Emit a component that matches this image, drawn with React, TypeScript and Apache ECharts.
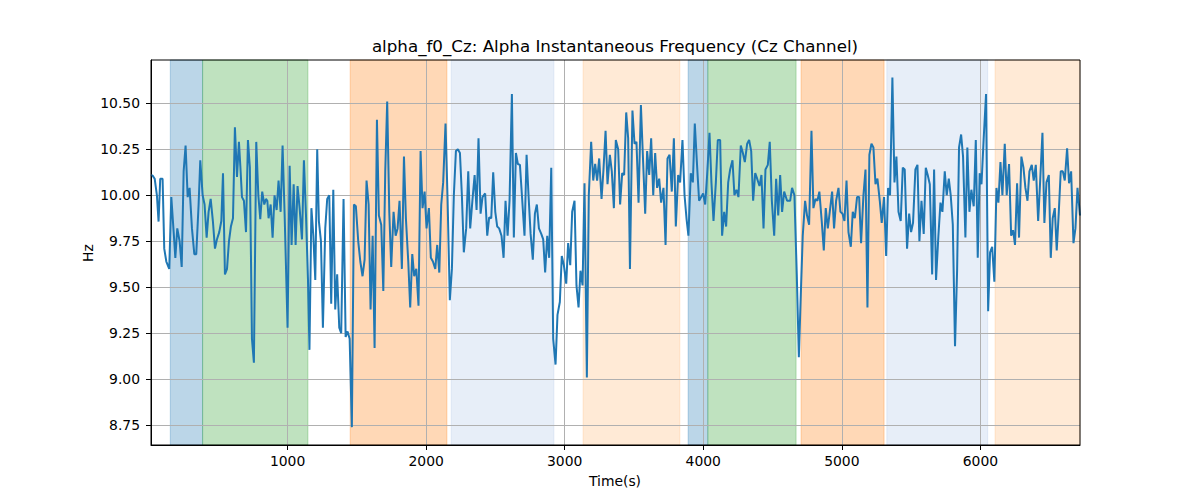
import React, { useEffect, useRef } from "react";
import * as echarts from "echarts";

// Sample times (s) and alpha instantaneous frequency (Hz)
const TIME_S = [
  14.4, 26, 41, 57, 69, 81, 98, 110, 125, 146, 161, 178, 190, 204, 221, 236, 250, 264, 279, 293,
  310, 327, 341, 358, 370, 387, 401, 416, 430, 445, 461, 476, 490, 507, 522, 534, 548, 563, 577, 591,
  606, 620, 635, 649, 659, 671, 685, 700, 714, 728, 743, 757, 774, 789, 803, 817, 832, 844, 854, 863,
  878, 892, 906, 921, 935, 950, 964, 979, 1000, 1015, 1029, 1044, 1058, 1072, 1087, 1104, 1118, 1133, 1147, 1158,
  1172, 1186, 1200, 1214, 1226, 1241, 1255, 1272, 1286, 1301, 1315, 1330, 1344, 1358, 1373, 1387, 1404, 1419, 1433, 1448,
  1464, 1479, 1493, 1510, 1525, 1541, 1556, 1570, 1585, 1599, 1614, 1628, 1645, 1659, 1676, 1691, 1705, 1719, 1734, 1748,
  1765, 1780, 1794, 1808, 1825, 1840, 1854, 1871, 1885, 1900, 1914, 1929, 1945, 1960, 1974, 1989, 2003, 2020, 2034, 2049,
  2066, 2080, 2095, 2109, 2123, 2140, 2155, 2171, 2186, 2200, 2215, 2229, 2244, 2258, 2272, 2289, 2304, 2318, 2335, 2350,
  2364, 2378, 2393, 2407, 2426, 2441, 2455, 2470, 2484, 2499, 2513, 2527, 2544, 2559, 2573, 2588, 2602, 2619, 2633, 2648,
  2662, 2677, 2693, 2710, 2725, 2739, 2754, 2770, 2785, 2799, 2814, 2831, 2845, 2859, 2874, 2888, 2903, 2917, 2934, 2948,
  2965, 2979, 2994, 3011, 3025, 3040, 3054, 3071, 3085, 3100, 3114, 3129, 3143, 3160, 3174, 3191, 3206, 3220, 3234, 3249,
  3266, 3280, 3295, 3309, 3326, 3340, 3355, 3369, 3386, 3400, 3415, 3429, 3444, 3458, 3471, 3489, 3504, 3518, 3533, 3550,
  3564, 3581, 3595, 3610, 3624, 3639, 3653, 3667, 3682, 3696, 3713, 3728, 3742, 3757, 3773, 3788, 3802, 3819, 3833, 3850,
  3865, 3879, 3893, 3910, 3925, 3939, 3954, 3970, 3985, 3999, 4014, 4028, 4045, 4059, 4074, 4091, 4105, 4122, 4136, 4151,
  4165, 4180, 4194, 4211, 4225, 4240, 4254, 4271, 4286, 4300, 4317, 4331, 4346, 4360, 4375, 4389, 4406, 4420, 4435, 4449,
  4466, 4480, 4495, 4512, 4526, 4541, 4555, 4569, 4584, 4605, 4627, 4641, 4658, 4675, 4690, 4704, 4718, 4735, 4749, 4764,
  4781, 4795, 4810, 4824, 4838, 4855, 4870, 4884, 4899, 4913, 4930, 4944, 4959, 4976, 4990, 5005, 5019, 5034, 5048, 5065,
  5079, 5094, 5110, 5125, 5139, 5156, 5171, 5185, 5199, 5214, 5228, 5243, 5257, 5274, 5288, 5305, 5320, 5334, 5348, 5365,
  5380, 5394, 5409, 5425, 5440, 5454, 5471, 5486, 5500, 5514, 5531, 5546, 5560, 5575, 5591, 5606, 5620, 5635, 5652, 5666,
  5680, 5697, 5712, 5726, 5743, 5757, 5772, 5786, 5801, 5817, 5832, 5846, 5861, 5875, 5892, 5906, 5921, 5935, 5952, 5967,
  5981, 5995, 6008, 6024, 6041, 6056, 6070, 6085, 6101, 6116, 6130, 6145, 6159, 6176, 6190, 6207, 6222, 6236, 6250, 6265,
  6279, 6296, 6311, 6325, 6340, 6354, 6371, 6385, 6400, 6417, 6431, 6448, 6462, 6477, 6494, 6508, 6522, 6537, 6551, 6566,
  6580, 6595, 6609, 6626, 6640, 6655, 6672, 6686, 6701, 6719,
];

const ALPHA_HZ = [
  10.11, 10.107, 10.09, 10.0, 9.857, 10.09, 10.09, 9.71, 9.64, 9.6, 9.99, 9.8, 9.66, 9.82, 9.75, 9.61, 10.13, 10.27, 9.99, 10.04,
  9.82, 9.68, 9.68, 9.95, 10.19, 10.0, 9.95, 9.77, 9.91, 9.98, 9.86, 9.71, 9.76, 9.8, 9.86, 10.12, 9.57, 9.6, 9.75, 9.83,
  9.875, 10.37, 10.1, 10.29, 10.16, 9.99, 9.97, 9.8, 10.3, 10.15, 9.22, 9.09, 10.29, 10.0, 9.87, 10.02, 9.95, 9.98, 9.97, 9.875,
  9.95, 9.77, 10.0, 9.92, 10.08, 9.91, 10.27, 9.89, 9.28, 10.16, 9.73, 10.06, 9.73, 10.05, 9.93, 9.76, 10.19, 9.89, 9.55, 9.16,
  9.93, 9.78, 9.54, 10.25, 9.86, 9.75, 9.28, 9.82, 9.98, 10.0, 9.41, 10.03, 9.38, 9.57, 9.28, 9.25, 9.98, 9.23, 9.26, 9.22,
  8.74, 9.95, 9.94, 9.75, 9.64, 9.56, 9.65, 10.08, 9.95, 9.38, 9.78, 9.17, 10.41, 9.89, 9.84, 9.48, 10.13, 10.51, 9.91, 9.61,
  9.91, 9.78, 9.82, 9.97, 9.6, 10.21, 9.875, 9.64, 9.39, 9.68, 9.56, 9.6, 9.4, 10.24, 9.93, 10.02, 9.82, 9.93, 9.66, 9.64,
  9.6, 9.73, 9.58, 9.95, 10.07, 10.39, 9.97, 9.43, 9.6, 10.0, 10.24, 10.25, 10.23, 10.0, 9.69, 9.82, 10.13, 9.82, 9.98, 10.11,
  9.92, 10.31, 9.9, 9.99, 10.01, 9.78, 9.88, 9.875, 10.125, 9.91, 9.83, 9.82, 9.78, 9.66, 9.97, 9.78, 9.97, 10.55, 9.77, 10.23,
  10.17, 10.165, 9.98, 9.78, 10.22, 10.0, 9.79, 9.65, 9.9, 9.95, 9.82, 9.79, 9.76, 9.58, 9.78, 9.66, 10.15, 9.22, 9.08, 9.35,
  9.42, 9.67, 9.62, 9.52, 9.74, 9.62, 9.91, 9.97, 9.51, 9.39, 9.59, 9.51, 10.065, 9.01, 10.0, 10.29, 10.08, 10.17, 10.08, 10.2,
  9.98, 10.14, 10.35, 10.06, 10.22, 10.13, 9.93, 10.3, 10.25, 9.95, 10.12, 10.11, 10.45, 10.31, 9.6, 10.46, 10.28, 10.29, 9.96, 10.49,
  10.22, 9.9, 10.24, 10.11, 10.31, 10.0, 10.23, 10.04, 10.09, 9.96, 10.04, 9.73, 10.2, 10.22, 10.02, 10.31, 9.83, 10.11, 10.07, 10.3,
  10.0, 9.875, 9.78, 10.12, 10.07, 10.39, 10.18, 9.97, 9.99, 10.01, 9.95, 10.11, 10.34, 10.07, 9.86, 10.07, 10.3, 10.3, 9.78, 9.91,
  9.83, 10.07, 10.14, 10.19, 10.0, 10.03, 9.99, 10.27, 10.23, 10.18, 10.28, 10.3, 10.24, 9.97, 10.12, 10.09, 10.05, 10.11, 9.82, 10.14,
  10.165, 10.29, 9.97, 9.78, 10.09, 9.89, 10.11, 9.91, 10.02, 9.97, 9.97, 10.04, 10.0, 9.57, 9.12, 9.46, 9.78, 9.97, 9.89, 9.84,
  10.35, 9.93, 9.98, 9.97, 10.02, 9.86, 9.7, 9.93, 9.82, 9.91, 10.02, 9.82, 9.97, 10.04, 9.91, 9.9, 9.86, 10.08, 9.8, 9.72,
  9.91, 9.875, 9.99, 9.99, 9.74, 10.0, 10.14, 9.39, 10.22, 10.28, 10.26, 10.06, 10.09, 9.97, 9.85, 9.99, 9.67, 10.04, 10.0, 10.64,
  10.07, 10.21, 9.91, 9.86, 10.15, 10.14, 9.71, 9.9, 9.8, 9.85, 10.14, 10.165, 9.75, 9.97, 9.79, 10.15, 10.11, 10.06, 9.57, 10.14,
  9.54, 9.78, 9.96, 9.91, 10.13, 10.0, 10.09, 10.0, 9.84, 9.18, 9.59, 10.26, 10.33, 10.21, 9.77, 10.26, 9.91, 10.03, 9.94, 10.3,
  9.66, 10.12, 10.06, 10.31, 10.55, 9.37, 9.69, 9.72, 9.53, 10.04, 9.96, 10.18, 10.0, 10.28, 10.0, 10.17, 9.78, 9.81, 9.73, 10.065,
  9.77, 10.21, 10.15, 10.04, 9.97, 10.13, 10.165, 10.08, 10.165, 9.86, 10.07, 10.34, 9.85, 10.07, 10.11, 9.66, 9.875, 9.93, 9.7, 9.91,
  10.13, 10.13, 10.08, 10.255, 10.065, 10.13, 9.74, 9.82, 10.04, 9.89,
];

// Shaded epochs (start, end in seconds) and their condition kind
const BAND_START = [153.7, 386.7, 1452, 2181, 3133, 3891, 4033, 4706, 5325, 6106];
const BAND_END = [386.7, 1147, 2150, 2922, 3831, 4033, 4670, 5305, 6053, 6760];
const BAND_KIND = ["blue", "green", "orange", "lightblue", "lightorange", "blue", "green", "orange", "lightblue", "lightorange"];

const X_TICKS = [1000, 2000, 3000, 4000, 5000, 6000];
const Y_TICKS = [8.75, 9.0, 9.25, 9.5, 9.75, 10.0, 10.25, 10.5];

const TITLE = "alpha_f0_Cz: Alpha Instantaneous Frequency (Cz Channel)";
const X_NAME = "Time(s)";
const Y_NAME = "Hz";

const KIND_COLOR: Record<string, string> = {
  blue: "#1f77b4",
  green: "#2ca02c",
  orange: "#ff7f0e",
  lightblue: "#aec7e8",
  lightorange: "#ffbb78",
};

const FONT = "DejaVu Sans";

export default function App() {
  const ref = useRef<HTMLDivElement>(null);

  useEffect(() => {
    if (!ref.current) return;
    const chart = echarts.init(ref.current, null, { renderer: "svg" });
    const points = TIME_S.map((t, i) => [t, ALPHA_HZ[i]]);
    const areas = BAND_START.map((s, i) => [
      {
        xAxis: s,
        itemStyle: {
          color: KIND_COLOR[BAND_KIND[i]],
          opacity: 0.3,
          borderColor: KIND_COLOR[BAND_KIND[i]],
          borderWidth: 1,
        },
      },
      { xAxis: BAND_END[i] },
    ]);

    const tickLabel = { color: "#000", fontSize: 13.9, fontFamily: FONT };

    chart.setOption({
      animation: false,
      grid: {
        left: 151,
        right: 120,
        top: 60,
        bottom: 55,
        show: true,
        borderColor: "#000",
        borderWidth: 1,
        backgroundColor: "transparent",
        z: 4,
      },
      xAxis: {
        type: "value",
        min: 14.4,
        max: 6719,
        z: 1.5,
        axisLine: { show: true, onZero: false, lineStyle: { color: "#000", width: 1 } },
        axisTick: { show: true, customValues: X_TICKS, length: 5, lineStyle: { color: "#000" } },
        axisLabel: {
          customValues: X_TICKS,
          margin: 9,
          formatter: (v: number) => String(Math.round(v)),
          ...tickLabel,
        },
        splitLine: { show: true, lineStyle: { color: "#b0b0b0", width: 1 } },
      },
      yAxis: {
        type: "value",
        min: 8.643,
        max: 10.735,
        z: 1.5,
        axisLine: { show: true, onZero: false, lineStyle: { color: "#000", width: 1 } },
        axisTick: { show: true, customValues: Y_TICKS, length: 5, lineStyle: { color: "#000" } },
        axisLabel: {
          customValues: Y_TICKS,
          margin: 11,
          formatter: (v: number) => v.toFixed(2),
          ...tickLabel,
        },
        splitLine: { show: true, lineStyle: { color: "#b0b0b0", width: 1 } },
      },
      graphic: [
        {
          type: "text",
          x: 615,
          y: 46,
          style: {
            text: TITLE,
            fill: "#000",
            font: `16.7px "${FONT}"`,
            textAlign: "center",
            textVerticalAlign: "middle",
          },
        },
        {
          type: "text",
          x: 615,
          y: 481,
          style: {
            text: X_NAME,
            fill: "#000",
            font: `13.9px "${FONT}"`,
            textAlign: "center",
            textVerticalAlign: "middle",
          },
        },
        {
          type: "text",
          x: 88,
          y: 253,
          rotation: Math.PI / 2,
          style: {
            text: Y_NAME,
            fill: "#000",
            font: `13.9px "${FONT}"`,
            textAlign: "center",
            textVerticalAlign: "middle",
          },
        },
      ],
      series: [
        {
          type: "line",
          data: [],
          silent: true,
          markArea: { silent: true, data: areas },
        },
        {
          type: "line",
          data: points,
          z: 3,
          showSymbol: false,
          symbol: "none",
          lineStyle: { color: "#1f77b4", width: 2 },
          itemStyle: { color: "#1f77b4" },
        },
      ],
    });
    return () => chart.dispose();
  }, []);

  return (
    <div
      ref={ref}
      style={{ position: "fixed", left: 0, top: 0, width: 1200, height: 500, background: "#fff" }}
    />
  );
}
